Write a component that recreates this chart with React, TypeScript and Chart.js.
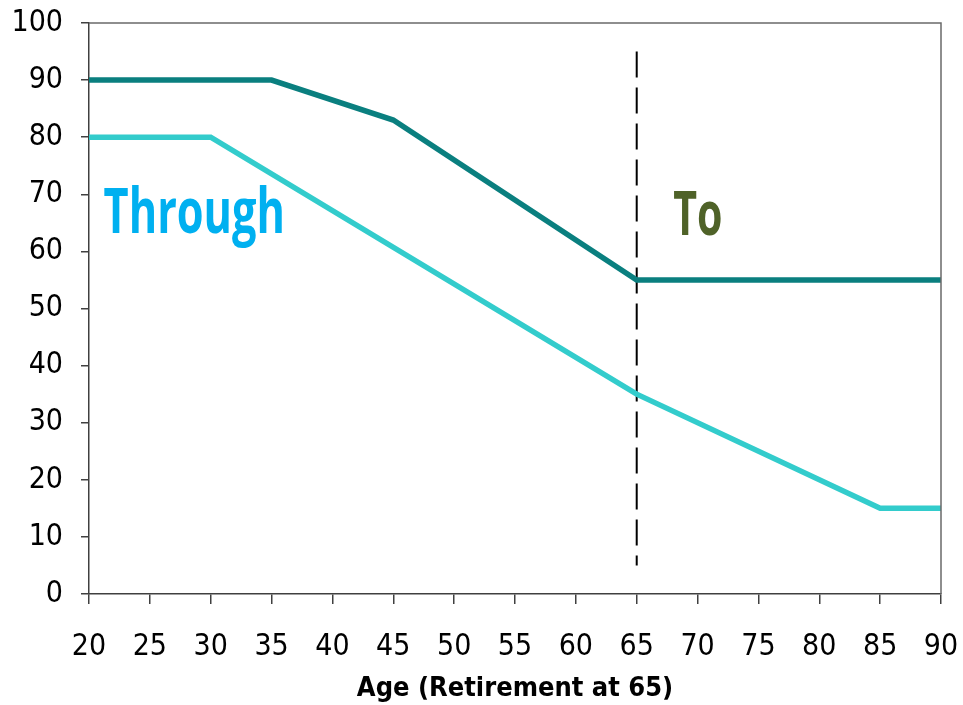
import React, { useEffect, useRef } from "react";
import { Chart, registerables } from "chart.js";

Chart.register(...registerables);

// ---- data ----
const xTickLabels = [20, 25, 30, 35, 40, 45, 50, 55, 60, 65, 70, 75, 80, 85, 90];
const yTickLabels = [0, 10, 20, 30, 40, 50, 60, 70, 80, 90, 100];

const toAges = [20, 35, 45, 65, 90];
const toValues = [90, 90, 83, 55, 55];

const throughAges = [20, 30, 65, 85, 90];
const throughValues = [80, 80, 35, 15, 15];

const retirementAges = [65, 65];
const retirementMarker = [95, 5];

const xAxisTitle = "Age (Retirement at 65)";

// text labels placed in data space: left/right age, top/baseline value
const textLabels = [
  { text: "Through", x0: 21.2, x1: 35.9, yTop: 70.8, yBase: 63.2, color: "#00B0F0" },
  { text: "To", x0: 68.0, x1: 71.9, yTop: 70.4, yBase: 62.9, color: "#4F6228" },
];

const TICK_FONT = '"DejaVu Sans Condensed", "DejaVu Sans", sans-serif';
const TEXT_FONT = '"Open Sans", "Noto Sans", "DejaVu Sans", sans-serif';

const zip = (xs: number[], ys: number[]) => xs.map((x, i) => ({ x, y: ys[i] }));

const frameAndText = {
  id: "frameAndText",
  afterDatasetsDraw(chart: any) {
    const { ctx, chartArea, scales } = chart;
    ctx.save();
    ctx.strokeStyle = "#6a6a6a";
    ctx.lineWidth = 1.5;
    ctx.beginPath();
    ctx.moveTo(chartArea.left, chartArea.top);
    ctx.lineTo(chartArea.right, chartArea.top);
    ctx.lineTo(chartArea.right, chartArea.bottom);
    ctx.stroke();

    for (const t of textLabels) {
      const left = scales.x.getPixelForValue(t.x0);
      const right = scales.x.getPixelForValue(t.x1);
      const top = scales.y.getPixelForValue(t.yTop);
      const base = scales.y.getPixelForValue(t.yBase);
      const size = 40;
      ctx.font = `bold ${size}px ${TEXT_FONT}`;
      const m = ctx.measureText(t.text);
      const mt = ctx.measureText("T");
      const w = m.actualBoundingBoxLeft + m.actualBoundingBoxRight;
      const cap = mt.actualBoundingBoxAscent;
      const sx = (right - left) / w;
      const sy = (base - top) / cap;
      ctx.save();
      ctx.translate(left, base);
      ctx.scale(sx, sy);
      ctx.fillStyle = t.color;
      ctx.textBaseline = "alphabetic";
      ctx.textAlign = "left";
      ctx.fillText(t.text, m.actualBoundingBoxLeft, 0);
      ctx.restore();
    }
    ctx.restore();
  },
};

export default function App() {
  const ref = useRef<HTMLCanvasElement | null>(null);

  useEffect(() => {
    if (!ref.current) return;
    const chart = new Chart(ref.current, {
      type: "line",
      data: {
        datasets: [
          {
            label: "To",
            data: zip(toAges, toValues),
            borderColor: "#0A7F7F",
            borderWidth: 5.5,
            pointRadius: 0,
            tension: 0,
          },
          {
            label: "Through",
            data: zip(throughAges, throughValues),
            borderColor: "#33CCCC",
            borderWidth: 5.5,
            pointRadius: 0,
            tension: 0,
          },
          {
            label: "Retirement",
            data: zip(retirementAges, retirementMarker),
            borderColor: "#000000",
            borderWidth: 2,
            borderDash: [26, 10],
            pointRadius: 0,
          },
        ],
      },
      options: {
        animation: false,
        responsive: true,
        maintainAspectRatio: false,
        layout: { padding: { top: 23, right: 22, left: 0, bottom: 0 } },
        plugins: { legend: { display: false }, tooltip: { enabled: false } },
        scales: {
          x: {
            type: "linear",
            min: xTickLabels[0],
            max: xTickLabels[xTickLabels.length - 1],
            afterFit: (s: any) => {
              s.height = 111;
              s.paddingLeft = 0;
              s.paddingRight = 0;
            },
            afterBuildTicks: (s: any) => {
              s.ticks = xTickLabels.map((v) => ({ value: v }));
            },
            ticks: {
              font: { family: TICK_FONT, size: 30 },
              color: "#000000",
              padding: 25,
              maxRotation: 0,
              autoSkip: false,
            },
            grid: { drawOnChartArea: false, drawTicks: true, tickLength: 10, color: "#404040", lineWidth: 1.5 },
            border: { color: "#404040", width: 1.5 },
            title: {
              display: true,
              text: xAxisTitle,
              color: "#000000",
              font: { family: TICK_FONT, size: 27, weight: "bold" },
              padding: { top: 0, bottom: 0 },
            },
          },
          y: {
            min: yTickLabels[0],
            max: yTickLabels[yTickLabels.length - 1],
            afterFit: (s: any) => {
              s.width = 89;
              s.paddingTop = 0;
              s.paddingBottom = 0;
            },
            afterBuildTicks: (s: any) => {
              s.ticks = yTickLabels.map((v) => ({ value: v }));
            },
            ticks: {
              font: { family: TICK_FONT, size: 30 },
              color: "#000000",
              padding: 18,
              autoSkip: false,
            },
            grid: { drawOnChartArea: false, drawTicks: true, tickLength: 8, color: "#404040", lineWidth: 1.5 },
            border: { color: "#404040", width: 1.5 },
          },
        },
      },
      plugins: [frameAndText],
    });
    return () => chart.destroy();
  }, []);

  return (
    <div style={{ position: "fixed", left: 0, top: 0, width: 963, height: 705, background: "#ffffff" }}>
      <canvas ref={ref} />
    </div>
  );
}
